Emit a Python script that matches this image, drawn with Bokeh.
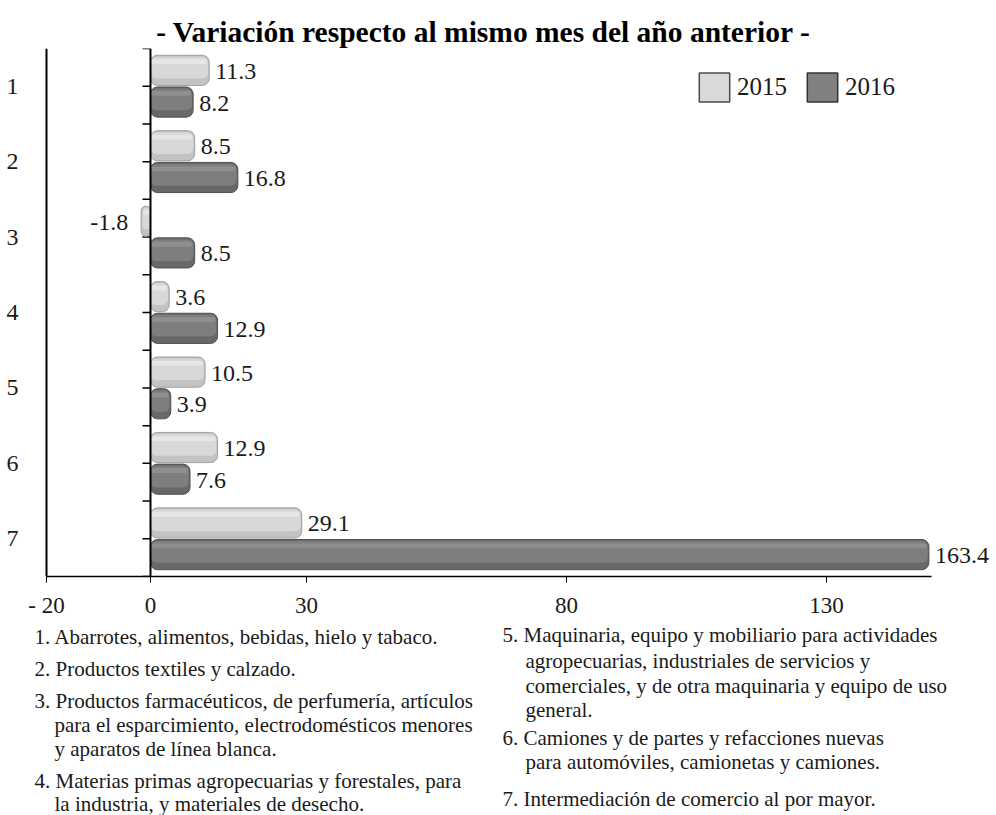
import numpy as np
from bokeh.plotting import figure
from bokeh.layouts import column
from bokeh.models import (ColumnDataSource, Range1d, FixedTicker, Span, Label,
                          LabelSet, Legend, LegendItem)
from bokeh.embed import file_html
from bokeh.resources import INLINE

# ---------------- data ----------------
categories = ["1", "2", "3", "4", "5", "6", "7"]
values_2015 = [11.3, 8.5, -1.8, 3.6, 10.5, 12.9, 29.1]
values_2016 = [8.2, 16.8, 8.5, 12.9, 3.9, 7.6, 163.4]
series_names = ["2015", "2016"]
x_ticks = [-20, 0, 30, 80, 130]
x_tick_labels = ["- 20", "0", "30", "80", "130"]
title_text = "- Variación respecto al mismo mes del año anterior -"

notes_left = [
    ("1. Abarrotes, alimentos, bebidas, hielo y tabaco.", False),
    ("2. Productos  textiles y calzado.", False),
    ("3. Productos  farmacéuticos,  de perfumería,  artículos", False),
    ("para el esparcimiento, electrodomésticos  menores", True),
    ("y aparatos  de línea blanca.", True),
    ("4. Materias primas agropecuarias  y forestales, para", False),
    ("la industria, y materiales de desecho.", True),
]
notes_right = [
    ("5. Maquinaria, equipo y mobiliario para actividades", False),
    ("agropecuarias, industriales de servicios y", True),
    ("comerciales, y de otra maquinaria y equipo de uso", True),
    ("general.", True),
    ("6. Camiones y de partes y refacciones nuevas", False),
    ("para automóviles, camionetas y camiones.", True),
    ("7. Intermediación de comercio al por mayor.", False),
]
# page positions (px) of the footnote lines
notes_left_y = [636, 668, 700, 724, 748, 780, 803]
notes_right_y = [634, 660, 685, 709, 737, 761, 798]
notes_left_x = (34, 54)
notes_right_x = (502, 525)

# ---------------- style ----------------
SERIF = "Liberation Serif"
TXT = "#1a1a1a"
X_START, X_END = -20, 150.2          # visible extent of the value axis
W = 996
AX_L, AX_R = 46, 931                 # value axis pixel extent
FRAME_TOP, FRAME_BOTTOM, FB = 48, 578, 42
H0 = FRAME_TOP
H1 = FRAME_BOTTOM - FRAME_TOP + FB
H2 = 815 - H0 - H1
PX = (AX_R - AX_L) / (X_END - X_START)

styles = {
    "2015": dict(edge="#a0a0a0", shadow="#c3c3c3", body="#d8d8d8", hi="#ececec",
                 leg_fill="#d9d9d9", leg_line="#4a4a4a"),
    "2016": dict(edge="#505050", shadow="#686868", body="#7e7e7e", hi="#979797",
                 leg_fill="#808080", leg_line="#333333"),
}


def text_fig(height, top):
    f = figure(width=W, height=height, output_backend="svg", toolbar_location=None,
               x_range=Range1d(0, W), y_range=Range1d(top + height, top),
               x_axis_location=None, y_axis_location=None, min_border=0,
               outline_line_color=None, background_fill_color="white",
               border_fill_color="white")
    f.grid.visible = False
    return f


# ---------------- title figure ----------------
p0 = text_fig(H0, 0)
p0.add_layout(Label(x=483, y=31, text=title_text, text_align="center",
                    text_baseline="middle", text_font=SERIF, text_font_style="bold",
                    text_font_size="29.5px", text_color="black"))

# ---------------- chart figure ----------------
n = len(categories)
pos = np.arange(1, n + 1)

p = figure(width=W, height=H1, output_backend="svg", toolbar_location=None,
           x_range=Range1d(X_START - AX_L / PX, X_END + (W - AX_R) / PX),
           y_range=Range1d(n + 0.5, 0.5), y_axis_location=None,
           min_border_left=0, min_border_right=0, min_border_top=0,
           min_border_bottom=FB, outline_line_color=None,
           background_fill_color="white", border_fill_color="white")
p.xgrid.visible = False
p.ygrid.visible = False

# value axis
p.xaxis.ticker = FixedTicker(ticks=x_ticks)
p.xaxis.bounds = (X_START, X_END)
p.xaxis.major_label_overrides = {t: l for t, l in zip(x_ticks, x_tick_labels)}
p.xaxis.minor_tick_line_color = None
p.xaxis.major_tick_in = 0
p.xaxis.major_tick_out = 6
p.xaxis.major_tick_line_color = "black"
p.xaxis.axis_line_color = "black"
p.xaxis.axis_line_width = 1.5
p.xaxis.major_label_standoff = 10
p.xaxis.major_label_text_font = SERIF
p.xaxis.major_label_text_font_size = "23px"
p.xaxis.major_label_text_color = TXT

# category axis: line at the start of the value axis + labels
p.add_layout(Span(location=X_START, dimension="height", line_color="black", line_width=2))
p.add_layout(LabelSet(x="x", y="y", text="t", x_offset=-28,
                      source=ColumnDataSource(dict(x=[X_START] * n, y=pos, t=categories)),
                      text_align="right", text_baseline="middle", text_font=SERIF,
                      text_font_size="24px", text_color=TXT))

# zero line with half-category ticks
p.add_layout(Span(location=0, dimension="height", line_color="black", line_width=2))
tick_y = np.arange(0.5, n + 0.51, 0.5)
p.ray(x=np.zeros_like(tick_y), y=tick_y, length=8, length_units="screen",
      angle=np.pi, line_color="black", line_width=1.5)

# bars
bar_h = 0.40
dodge = 0.21
inset = 2.0 / PX
legend_items = []
for name, vals, off in zip(series_names, [values_2015, values_2016], [-dodge, dodge]):
    st = styles[name]
    v = np.array(vals, dtype=float)
    shown = np.minimum(v, X_END - 0.5)      # longest bar is cut at the axis end
    left = np.minimum(0, shown)
    right = np.maximum(0, shown)
    y = pos + off
    neg = shown < 0
    src = ColumnDataSource(dict(y=y, left=left, right=right))
    p.hbar(y="y", left="left", right="right", height=bar_h, source=src,
           fill_color=st["shadow"], line_color=st["edge"], line_width=1,
           border_radius=7)
    src2 = ColumnDataSource(dict(y=y - 0.035,
                                 left=left + np.where(neg, inset * 0.6, 0),
                                 right=right - np.where(~neg, inset * 0.6, 0)))
    p.hbar(y="y", left="left", right="right", height=bar_h * 0.72, source=src2,
           fill_color=st["body"], line_color=None, border_radius=6)
    src3 = ColumnDataSource(dict(y=y - 0.115,
                                 left=left + np.where(neg, inset, 0),
                                 right=right - np.where(~neg, inset, 0)))
    p.hbar(y="y", left="left", right="right", height=bar_h * 0.16, source=src3,
           fill_color=st["hi"], line_color=None, fill_alpha=0.7, border_radius=3)

    # value labels
    txt = [f"{x:.1f}" for x in v]
    lsrc = ColumnDataSource(dict(x=shown[~neg], y=y[~neg],
                                 t=[t for t, m in zip(txt, neg) if not m]))
    p.add_layout(LabelSet(x="x", y="y", text="t", source=lsrc, x_offset=6, y_offset=-1,
                          text_align="left", text_baseline="middle",
                          text_font=SERIF, text_font_size="24px", text_color=TXT))
    if neg.any():
        nsrc = ColumnDataSource(dict(x=shown[neg], y=y[neg],
                                     t=[t for t, m in zip(txt, neg) if m]))
        p.add_layout(LabelSet(x="x", y="y", text="t", source=nsrc, x_offset=-13,
                              y_offset=-1, text_align="right", text_baseline="middle",
                              text_font=SERIF, text_font_size="24px", text_color=TXT))

    # legend swatch (proxy renderer, nothing drawn in the plot)
    lr = p.hbar(y=[np.nan], left=[0], right=[1], height=bar_h,
                fill_color=st["leg_fill"], line_color=st["leg_line"], line_width=1.5)
    legend_items.append(LegendItem(label=name, renderers=[lr]))

# legend: bottom-left corner at page (695, 107); frame bottom-left is page (0, 578)
legend = Legend(items=legend_items, orientation="horizontal",
                location=(695, FRAME_BOTTOM - 107), padding=0, margin=0, spacing=16,
                glyph_width=38, glyph_height=36, label_standoff=4, label_height=36,
                label_text_font=SERIF, label_text_font_size="25px",
                label_text_color=TXT, border_line_color=None,
                background_fill_alpha=0)
p.add_layout(legend)

# ---------------- footnotes figure ----------------
p2 = text_fig(H2, H0 + H1)
for notes, ys, (x_num, x_cont) in [(notes_left, notes_left_y, notes_left_x),
                                   (notes_right, notes_right_y, notes_right_x)]:
    for (t, cont), yy in zip(notes, ys):
        p2.add_layout(Label(x=x_cont if cont else x_num, y=yy, text=t,
                            text_align="left", text_baseline="middle",
                            text_font=SERIF, text_font_size="21px", text_color=TXT))

layout = column(p0, p, p2, spacing=0)
open("out.html", "w").write(file_html(layout, INLINE))
